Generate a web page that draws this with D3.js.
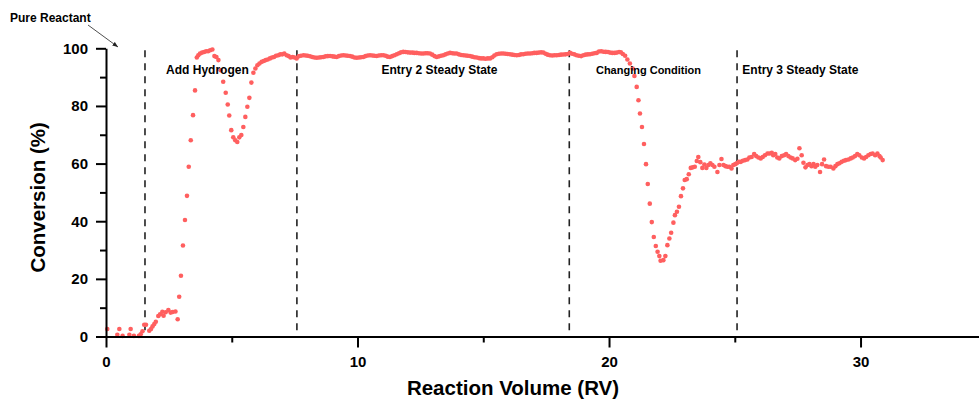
<!DOCTYPE html>
<html>
<head>
<meta charset="utf-8">
<script src="https://cdn.jsdelivr.net/npm/d3@7"></script>
<style>
  body { margin: 0; background: #fff; }
  svg { display: block; font-family: "Liberation Sans", Arial, sans-serif; }
</style>
</head>
<body>
<svg width="979" height="400"></svg>
<script>
// conversion (%) vs reaction volume (RV)
const pureReactant = [
  [0.05, 2.6], [0.45, 0.6], [0.53, 2.6], [0.66, 0.2], [0.93, 0.6], [0.98, 2.6],
  [1.11, 0.2], [1.31, 0.2], [1.38, 0.8], [1.45, 1.8]
];
const addHydrogen = [
  [1.52, 4.1], [1.59, 4.1], [1.72, 2.0], [1.79, 2.6], [1.85, 3.5], [1.92, 4.3], [1.98, 5.1],
  [2.08, 7.1], [2.15, 7.7], [2.24, 8.6], [2.29, 7.2], [2.37, 8.4], [2.48, 9.2], [2.57, 8.3],
  [2.65, 8.5], [2.76, 8.7], [2.85, 6.0], [2.91, 13.8], [2.98, 21.1], [3.06, 31.6], [3.14, 40.4],
  [3.22, 48.8], [3.29, 58.9], [3.37, 68.1], [3.46, 76.8], [3.54, 85.4], [3.61, 96.8], [3.67, 97.6],
  [3.74, 98.2], [3.82, 98.5], [3.9, 98.7], [3.98, 99.0], [4.06, 99.0], [4.14, 99.3], [4.23, 99.6],
  [4.31, 97.3], [4.39, 97.0], [4.47, 95.9], [4.56, 92.4], [4.66, 88.4], [4.76, 84.6], [4.84, 80.5],
  [4.9, 76.7], [4.98, 71.6], [5.06, 69.1], [5.14, 68.1], [5.22, 67.5], [5.3, 69.1], [5.38, 69.9],
  [5.46, 72.7], [5.54, 76.2], [5.62, 79.7], [5.7, 82.8], [5.78, 88.1], [5.86, 91.5], [5.94, 93.0],
  [6.02, 94.1], [6.1, 94.7], [6.19, 95.3], [6.27, 95.6], [6.35, 95.9], [6.43, 96.1], [6.52, 96.5],
  [6.6, 96.8], [6.68, 97.0], [6.76, 97.4], [6.85, 97.6], [6.93, 97.9], [7.01, 97.9], [7.09, 98.2],
  [7.18, 97.6], [7.26, 97.3], [7.34, 96.8], [7.42, 97.0], [7.5, 96.8], [7.58, 96.5]
];
const entry2 = [
  [7.66, 97.2], [7.75, 97.4], [7.85, 97.6], [7.94, 97.5], [8.02, 97.4], [8.11, 97.25], [8.2, 97.0],
  [8.29, 96.8], [8.38, 96.7], [8.47, 96.8], [8.55, 96.9], [8.64, 97.0], [8.73, 97.2], [8.82, 97.3],
  [8.91, 97.35], [9.0, 97.2], [9.08, 97.1], [9.17, 97.0], [9.26, 97.3], [9.35, 97.5], [9.44, 97.6],
  [9.53, 97.5], [9.61, 97.4], [9.7, 97.35], [9.79, 97.1], [9.88, 96.8], [9.97, 96.7], [10.06, 96.8],
  [10.14, 96.9], [10.23, 97.0], [10.32, 97.3], [10.41, 97.5], [10.5, 97.6], [10.59, 97.5], [10.67, 97.4],
  [10.76, 97.35], [10.85, 97.5], [10.94, 97.6], [11.03, 97.6], [11.12, 97.4], [11.2, 97.1], [11.29, 97.0],
  [11.38, 97.3], [11.47, 97.6], [11.56, 97.95], [11.65, 98.3], [11.73, 98.6], [11.82, 98.75], [11.91, 98.7],
  [12.0, 98.6], [12.09, 98.5], [12.18, 98.5], [12.26, 98.4], [12.35, 98.4], [12.44, 98.3], [12.53, 98.2],
  [12.62, 98.2], [12.71, 98.3], [12.79, 98.3], [12.88, 98.2], [12.97, 97.8], [13.06, 97.3], [13.15, 97.0],
  [13.24, 97.2], [13.32, 97.4], [13.41, 97.6], [13.5, 97.9], [13.59, 98.2], [13.68, 98.4], [13.77, 98.3],
  [13.85, 98.2], [13.94, 98.2], [14.03, 97.9], [14.12, 97.7], [14.21, 97.6], [14.3, 97.5], [14.38, 97.4],
  [14.47, 97.35], [14.56, 97.1], [14.65, 96.9], [14.74, 96.8], [14.83, 96.6], [14.91, 96.5], [15.0, 96.5],
  [15.09, 96.4], [15.18, 96.5], [15.27, 96.5], [15.36, 96.9], [15.44, 97.5], [15.53, 97.95], [15.62, 98.1],
  [15.71, 98.2], [15.8, 98.2], [15.89, 98.1], [15.97, 98.0], [16.06, 97.95], [16.15, 97.8], [16.24, 97.7],
  [16.33, 97.6], [16.42, 97.7], [16.5, 97.9], [16.59, 97.95], [16.68, 98.1], [16.77, 98.2], [16.86, 98.2],
  [16.95, 98.3], [17.03, 98.4], [17.12, 98.4], [17.21, 98.5], [17.3, 98.6], [17.39, 98.5], [17.48, 98.1],
  [17.56, 97.8], [17.65, 97.6], [17.74, 97.5], [17.83, 97.6], [17.92, 97.6], [18.01, 97.7], [18.09, 97.8],
  [18.18, 97.85], [18.27, 97.9], [18.36, 98.0]
];
const changing = [
  [18.45, 98.4], [18.53, 98.1], [18.62, 97.9], [18.71, 97.6], [18.8, 97.4], [18.89, 97.3], [18.98, 97.6],
  [19.07, 97.8], [19.16, 97.9], [19.24, 97.95], [19.33, 98.1], [19.42, 98.3], [19.51, 98.4], [19.6, 98.9],
  [19.69, 99.0], [19.78, 98.8], [19.87, 98.75], [19.96, 98.7], [20.04, 98.5], [20.13, 98.4], [20.22, 98.4],
  [20.31, 98.5], [20.4, 98.7], [20.47, 98.6], [20.55, 98.0], [20.64, 97.4], [20.73, 96.1], [20.83, 94.7],
  [20.94, 93.0], [21.01, 90.4], [21.1, 86.6], [21.17, 82.0], [21.23, 77.4], [21.31, 72.7], [21.39, 66.8],
  [21.47, 59.8], [21.54, 52.9], [21.62, 46.1], [21.7, 39.7], [21.78, 34.5], [21.86, 31.4], [21.93, 29.4],
  [22.0, 27.9], [22.05, 26.3], [22.16, 26.5], [22.24, 27.9], [22.32, 31.7], [22.4, 34.0], [22.47, 36.0],
  [22.56, 39.5], [22.62, 42.1], [22.7, 43.3], [22.78, 45.0], [22.86, 48.7], [22.94, 51.4], [23.01, 54.3],
  [23.09, 54.6], [23.17, 56.3], [23.25, 58.5], [23.33, 58.7], [23.41, 58.9], [23.49, 60.9], [23.55, 62.3],
  [23.63, 60.5], [23.71, 58.5], [23.79, 59.7], [23.87, 58.5], [23.95, 59.5], [24.03, 60.1], [24.11, 59.5],
  [24.19, 58.9], [24.31, 57.1], [24.39, 59.5], [24.47, 61.6], [24.55, 59.5], [24.63, 59.1], [24.71, 58.9],
  [24.79, 58.9], [24.87, 58.3], [24.94, 59.5], [25.02, 59.8]
];
const entry3 = [
  [25.08, 60.1], [25.16, 60.6], [25.24, 60.6], [25.32, 61.0], [25.41, 61.2], [25.5, 61.4], [25.58, 62.1],
  [25.67, 62.3], [25.77, 63.3], [25.85, 62.6], [25.94, 62.1], [26.03, 61.8], [26.11, 62.3], [26.2, 62.9],
  [26.3, 63.5], [26.38, 63.5], [26.47, 63.7], [26.53, 62.9], [26.61, 63.3], [26.69, 62.1], [26.77, 61.8],
  [26.87, 62.6], [26.96, 62.9], [27.04, 63.3], [27.13, 62.6], [27.22, 62.1], [27.3, 61.8], [27.4, 61.2],
  [27.49, 61.7], [27.57, 65.3], [27.66, 62.9], [27.73, 60.3], [27.81, 58.7], [27.89, 59.5], [27.97, 59.8],
  [28.05, 59.1], [28.13, 59.8], [28.2, 58.9], [28.28, 59.5], [28.39, 57.1], [28.47, 59.8], [28.55, 61.4],
  [28.63, 59.1], [28.72, 58.9], [28.81, 58.9], [28.92, 58.3], [29.0, 59.1], [29.08, 59.8], [29.16, 60.1],
  [29.25, 60.6], [29.34, 61.0], [29.42, 61.2], [29.52, 61.4], [29.61, 61.8], [29.69, 62.1], [29.78, 62.6],
  [29.87, 63.3], [29.95, 62.9], [30.05, 62.1], [30.14, 61.8], [30.22, 62.3], [30.31, 62.9], [30.4, 63.3],
  [30.48, 63.5], [30.58, 62.9], [30.67, 63.5], [30.75, 62.6], [30.8, 62.1], [30.88, 61.2]
];

// phase boundaries (RV) and their labels (label start positions in RV)
const boundaries = [1.55, 7.59, 18.42, 25.09];
const phaseLabels = [
  { text: "Add Hydrogen", at: 2.39, size: 12 },
  { text: "Entry 2 Steady State", at: 13.26, size: 12, anchor: "middle" },
  { text: "Changing Condition", at: 19.48, size: 11 },
  { text: "Entry 3 Steady State", at: 25.3, size: 12 }
];
const xTicks = [0, 10, 20, 30];
const xMinor = [5, 15, 25, 35];
const yTicks = [0, 20, 40, 60, 80, 100];
const yMinor = [10, 30, 50, 70, 90];

const svg = d3.select("svg");
const x = d3.scaleLinear().domain([0, 35]).range([106, 986.3]);
const y = d3.scaleLinear().domain([0, 100]).range([336.5, 48.3]);
const points = [].concat(pureReactant, addHydrogen, entry2, changing, entry3);

// dashed phase separators
svg.append("g")
  .selectAll("line")
  .data(boundaries)
  .enter()
  .append("line")
  .attr("x1", d => x(d))
  .attr("x2", d => x(d))
  .attr("y1", y(99.3))
  .attr("y2", y(0))
  .attr("stroke", "#222")
  .attr("stroke-width", 1.6)
  .attr("stroke-dasharray", "7,6");

// data dots
svg.append("g")
  .selectAll("circle")
  .data(points)
  .enter()
  .append("circle")
  .attr("cx", d => x(d[0]))
  .attr("cy", d => y(d[1]))
  .attr("r", 2.3)
  .attr("fill", "#ff5f5f");

// axes
function styleAxis(g) {
  g.selectAll("path, line").attr("stroke", "#000").attr("stroke-width", 2);
  g.selectAll("text").attr("font-size", 15).attr("font-weight", "bold").attr("fill", "#000")
    .attr("font-family", "'Liberation Sans', Arial, sans-serif");
}
svg.append("g")
  .attr("transform", `translate(0,${y(0)})`)
  .call(d3.axisBottom(x).tickValues(xMinor).tickSize(6).tickFormat(""))
  .call(g => g.select(".domain").remove())
  .call(styleAxis);
svg.append("g")
  .attr("transform", `translate(0,${y(0)})`)
  .call(d3.axisBottom(x).tickValues(xTicks).tickSize(11).tickSizeOuter(0).tickPadding(9))
  .call(styleAxis);
svg.append("g")
  .attr("transform", `translate(${x(0)},0)`)
  .call(d3.axisLeft(y).tickValues(yMinor).tickSize(6).tickFormat(""))
  .call(g => g.select(".domain").remove())
  .call(styleAxis);
svg.append("g")
  .attr("transform", `translate(${x(0)},0)`)
  .call(d3.axisLeft(y).tickValues(yTicks).tickSize(10).tickSizeOuter(0).tickPadding(8))
  .call(styleAxis);

// axis titles
svg.append("text")
  .attr("x", 513)
  .attr("y", 395)
  .attr("text-anchor", "middle")
  .attr("font-size", 20.5)
  .attr("font-weight", "bold")
  .text("Reaction Volume (RV)");
svg.append("text")
  .attr("transform", `translate(45,${(y(0) + y(100)) / 2 + 5}) rotate(-90)`)
  .attr("text-anchor", "middle")
  .attr("font-size", 20.5)
  .attr("font-weight", "bold")
  .text("Conversion (%)");

// phase labels
svg.append("g")
  .selectAll("text")
  .data(phaseLabels)
  .enter()
  .append("text")
  .attr("x", d => x(d.at))
  .attr("y", 74)
  .attr("text-anchor", d => d.anchor || "start")
  .attr("font-size", d => d.size)
  .attr("font-weight", "bold")
  .text(d => d.text);

// "Pure Reactant" callout with arrow
const defs = svg.append("defs");
defs.append("marker")
  .attr("id", "arrow")
  .attr("viewBox", "0 0 10 10")
  .attr("refX", 10)
  .attr("refY", 5)
  .attr("markerWidth", 7)
  .attr("markerHeight", 7)
  .attr("orient", "auto")
  .append("path")
  .attr("d", "M0,1 L10,5 L0,9 Z")
  .attr("fill", "#222");
svg.append("text")
  .attr("x", 10)
  .attr("y", 22)
  .attr("font-size", 12)
  .attr("font-weight", "bold")
  .text("Pure Reactant");
svg.append("line")
  .attr("x1", 88)
  .attr("y1", 25)
  .attr("x2", 118)
  .attr("y2", 47)
  .attr("stroke", "#222")
  .attr("stroke-width", 0.8)
  .attr("marker-end", "url(#arrow)");
</script>
</body>
</html>
